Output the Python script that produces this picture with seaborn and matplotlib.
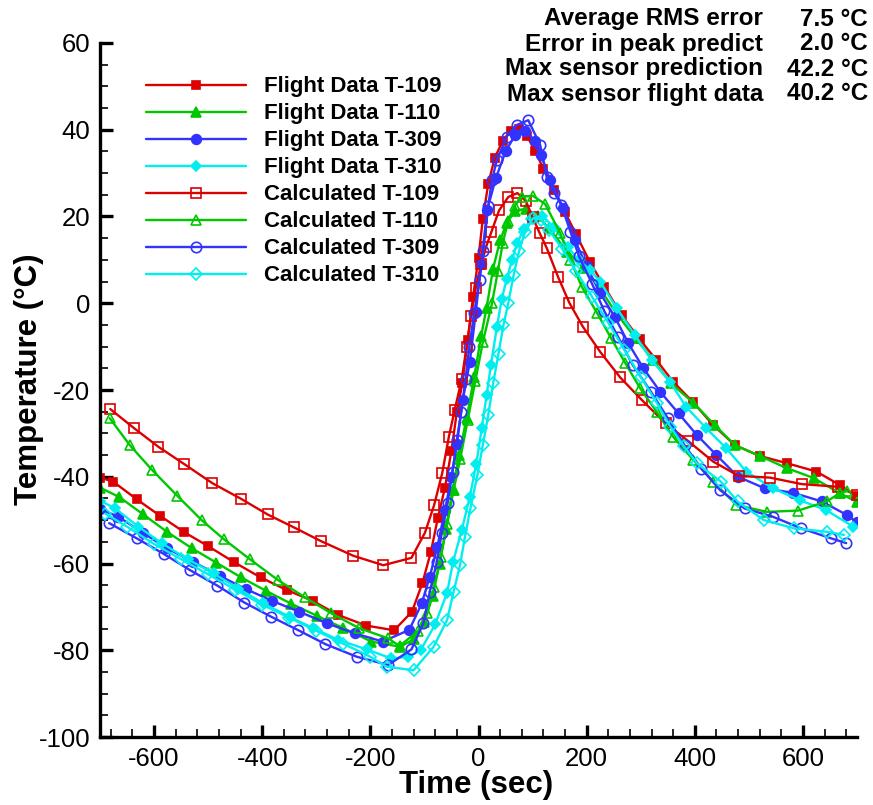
import matplotlib
matplotlib.use("Agg")
import matplotlib.pyplot as plt
import numpy as np
import pandas as pd
import seaborn as sns
from matplotlib.ticker import MultipleLocator

# ---- data (time in s, temperature in deg C) ----
fd109_t = [-700, -676, -632, -589, -544, -500, -452, -403, -355, -307, -259, -208, -156, -123, -104, -88,
           -75, -62, -50, -40, -30, -20, -10, 0, 8, 18, 30, 45, 60, 74, 90, 105, 120, 140, 160, 180, 206,
           233, 265, 298, 329, 360, 396, 434, 474, 520, 571, 625, 668, 700]
fd109_v = [-40.2, -41.1, -45.2, -49.0, -52.8, -56.0, -59.7, -63.2, -66.1, -68.6, -71.9, -74.3, -75.4, -71.1,
           -64.6, -57.3, -49.4, -42.5, -34.0, -25.0, -18.5, -8.5, 1.5, 10.5, 19.5, 27.5, 33.5, 37.5, 39.8, 40.2,
           38.5, 35.0, 31.0, 26.0, 21.0, 16.0, 9.5, 3.8, -2.8, -8.3, -13.1, -18.1, -22.7, -28.1, -32.7, -35.2,
           -36.9, -38.8, -41.9, -44.5]

fd110_t = [-700, -664, -621, -576, -530, -485, -439, -393, -346, -298, -250, -198, -145, -120, -100, -85,
           -72, -60, -48, -36, -22, -8, 5, 15, 27, 40, 52, 68, 88, 110, 130, 164, 194, 225, 256, 290, 322, 356,
           397, 437, 474, 520, 570, 620, 668, 700]
fd110_v = [-42.5, -44.7, -48.6, -52.7, -56.5, -59.8, -63.2, -66.3, -69.3, -72.1, -74.9, -78.0, -79.2, -77.5,
           -73.5, -67.5, -60.0, -52.0, -43.0, -35.0, -26.5, -17.0, -7.5, -1.0, 8.0, 14.5, 18.5, 21.3, 21.8, 20.0,
           17.3, 11.9, 8.1, 3.3, -2.5, -8.0, -13.0, -18.5, -22.9, -28.1, -32.7, -35.2, -38.0, -40.3, -43.8, -45.8]

fd309_t = [-700, -666, -620, -576, -528, -478, -430, -382, -332, -280, -229, -177, -128, -105, -90, -76, -62,
           -50, -40, -29, -16, -5, 5, 16, 32, 50, 68, 86, 104, 116, 132, 157, 178, 200, 225, 252, 277, 305, 336,
           370, 404, 440, 480, 530, 582, 635, 681, 700]
fd309_v = [-47.5, -49.2, -53.0, -56.5, -59.6, -62.9, -65.9, -68.6, -71.1, -73.8, -76.1, -78.0, -75.3, -69.2,
           -63.0, -56.1, -47.7, -40.0, -32.5, -22.3, -13.5, -2.0, 9.0, 21.5, 28.8, 35.0, 38.8, 39.8, 37.5, 34.2,
           28.4, 21.9, 14.6, 8.5, 2.3, -3.1, -9.2, -15.0, -20.4, -25.4, -30.4, -35.0, -40.0, -42.7, -43.7, -45.7,
           -48.8, -50.5]

fd310_t = [-700, -672, -629, -586, -538, -490, -444, -398, -349, -306, -259, -207, -161, -130, -107, -80,
           -58, -47, -31, -16, -4, 6, 15, 23, 34, 43, 52, 62, 72, 84, 98, 117, 140, 165, 185, 206, 225, 256, 289,
           320, 354, 384, 421, 458, 495, 545, 594, 643, 693]
fd310_v = [-45.5, -47.3, -51.5, -55.3, -59.0, -62.3, -65.8, -69.2, -72.3, -74.9, -77.6, -79.8, -81.9, -81.5,
           -80.0, -74.0, -66.7, -59.6, -52.3, -44.6, -37.0, -28.8, -21.2, -14.2, -5.5, 1.0, 5.5, 10.0, 14.0, 17.2,
           19.5, 20.2, 17.5, 13.0, 10.0, 7.7, 5.0, -1.2, -7.3, -13.1, -18.1, -23.9, -28.8, -33.4, -38.8, -42.7,
           -45.4, -47.7, -51.5]

c109_t = [-681, -637, -592, -544, -492, -439, -390, -341, -292, -232, -176, -124, -99, -82, -67, -55, -44,
          -31, -22, -14, -5, 5, 14, 24, 38, 55, 72, 88, 100, 113, 126, 147, 168, 193, 225, 262, 302, 346, 388,
          434, 481, 539, 598, 664, 700]
c109_v = [-24.4, -28.8, -33.1, -37.1, -41.5, -45.1, -48.7, -51.7, -54.8, -58.2, -60.4, -58.7, -52.9, -46.5,
          -39.1, -30.9, -24.6, -17.5, -10.0, -3.0, 3.5, 9.0, 13.0, 16.5, 21.4, 24.5, 25.4, 23.5, 19.8, 16.2,
          12.8, 6.1, 0.1, -5.4, -11.2, -17.1, -22.3, -27.7, -31.8, -36.5, -39.8, -40.2, -41.7, -42.3, -44.3]

c110_t = [-682, -645, -604, -557, -512, -471, -423, -371, -321, -272, -221, -168, -146, -111, -95, -82, -70,
          -58, -46, -34, -20, -6, 8, 25, 36, 45, 55, 67, 80, 100, 123, 151, 170, 191, 219, 245, 271, 299, 330,
          360, 397, 434, 477, 533, 591, 644, 668, 682]
c110_v = [-26.5, -32.7, -38.4, -44.4, -50.0, -54.4, -59.0, -63.8, -67.8, -71.5, -74.9, -77.2, -79.0, -75.5,
          -71.5, -65.5, -58.5, -51.0, -43.0, -36.0, -27.0, -18.0, -9.0, 0.0, 7.5, 14.0, 19.0, 22.5, 24.5, 24.8,
          22.9, 16.2, 10.0, 3.8, -2.2, -8.0, -13.7, -19.6, -25.1, -30.8, -36.1, -41.1, -46.5, -48.1, -47.8,
          -45.7, -43.8, -43.3]

c309_t = [-683, -632, -582, -534, -483, -433, -383, -333, -283, -225, -167, -124, -102, -90, -77, -68, -57,
          -48, -40, -32, -24, -17, -8, 2, 9, 18, 25, 34, 52, 71, 92, 114, 126, 140, 153, 170, 186, 210, 233,
          258, 285, 319, 350, 381, 412, 447, 492, 544, 597, 652, 680]
c309_v = [-50.7, -54.2, -57.8, -61.5, -65.1, -69.0, -72.3, -75.4, -78.6, -81.5, -83.4, -79.8, -73.8, -66.5,
          -59.6, -53.0, -46.0, -38.8, -31.5, -25.0, -17.5, -10.0, -2.3, 5.4, 12.0, 22.5, 28.5, 33.0, 38.4,
          41.1, 42.2, 36.5, 29.2, 25.5, 22.7, 16.5, 10.8, 4.5, -1.9, -7.7, -14.2, -20.4, -26.5, -32.7, -38.1,
          -43.1, -47.3, -49.2, -51.9, -54.2, -55.3]

c310_t = [-690, -650, -600, -550, -500, -450, -400, -350, -300, -250, -200, -170, -120, -83, -58, -46, -34,
          -25, -15, -2, 8, 18, 27, 37, 46, 55, 65, 75, 86, 101, 115, 130, 155, 180, 210, 240, 270, 300, 330,
          355, 380, 404, 448, 479, 528, 584, 645, 676]
c310_v = [-48.5, -51.5, -55.5, -59.0, -62.5, -66.0, -69.5, -72.5, -75.5, -78.5, -81.5, -83.8, -84.6, -79.2,
          -73.0, -66.5, -60.3, -53.8, -47.3, -39.6, -32.7, -25.8, -18.5, -11.6, -5.1, 0.0, 6.5, 12.0, 16.5,
          19.6, 19.3, 17.0, 12.5, 7.5, 1.5, -4.5, -10.8, -17.0, -23.0, -28.5, -33.0, -36.9, -41.1, -45.7,
          -50.0, -51.9, -52.7, -53.4]

labels = ["Flight Data T-109", "Flight Data T-110", "Flight Data T-309", "Flight Data T-310",
          "Calculated T-109", "Calculated T-110", "Calculated T-309", "Calculated T-310"]
times = [fd109_t, fd110_t, fd309_t, fd310_t, c109_t, c110_t, c309_t, c310_t]
temps = [fd109_v, fd110_v, fd309_v, fd310_v, c109_v, c110_v, c309_v, c310_v]

stat_names = ["Average RMS error", "Error in peak predict", "Max sensor prediction", "Max sensor flight data"]
stat_values = ["7.5 \u00b0C", "2.0 \u00b0C", "42.2 \u00b0C", "40.2 \u00b0C"]

# ---- styling ----
red, green, blue, cyan = "#dd0000", "#00c800", "#3333ff", "#00eeee"
colors = [red, green, blue, cyan] * 2
markers = ["s", "^", "o", "D"] * 2
filled = [True] * 4 + [False] * 4
msizes = [6, 6.5, 7, 5.5, 6.5, 7, 7.5, 6]

sns.set_style("ticks")
plt.rcParams["font.family"] = ["Liberation Sans", "DejaVu Sans"]
plt.rcParams["axes.unicode_minus"] = False
plt.rcParams["text.color"] = "black"
plt.rcParams["axes.labelcolor"] = "black"
plt.rcParams["xtick.color"] = "black"
plt.rcParams["ytick.color"] = "black"
plt.rcParams["axes.edgecolor"] = "black"

fig = plt.figure(figsize=(8.73, 8.05), dpi=100)
ax = fig.add_axes([100 / 873, 68 / 805, 757 / 873, 694 / 805])

df = pd.concat([pd.DataFrame({"time": t, "temp": v, "series": lab})
                for t, v, lab in zip(times, temps, labels)], ignore_index=True)

for i, lab in enumerate(labels):
    sub = df[df["series"] == lab]
    sns.lineplot(data=sub, x="time", y="temp", ax=ax, color=colors[i], lw=1.7,
                 marker=markers[i], markersize=msizes[i],
                 markerfacecolor=colors[i] if filled[i] else "none",
                 markeredgecolor=colors[i], markeredgewidth=1.2,
                 estimator=None, sort=False, label=lab)

ax.set_xlim(-700, 700)
ax.set_ylim(-100, 60)
ax.xaxis.set_major_locator(MultipleLocator(200))
ax.xaxis.set_minor_locator(MultipleLocator(40))
ax.yaxis.set_major_locator(MultipleLocator(20))
ax.yaxis.set_minor_locator(MultipleLocator(5))
for s in ["top", "right"]:
    ax.spines[s].set_visible(False)
for s in ["left", "bottom"]:
    ax.spines[s].set_linewidth(2.4)
ax.tick_params(which="major", direction="in", length=9, width=2.4, labelsize=18.5, pad=7)
ax.tick_params(which="minor", direction="in", length=5.5, width=1.2)

ax.set_xlabel("Time (sec)", fontsize=22.5, fontweight="bold")
ax.set_ylabel("Temperature (\u00b0C)", fontsize=22.5, fontweight="bold")
ax.xaxis.set_label_coords(0.497, -0.047)
ax.yaxis.set_label_coords(-0.074, 0.515)

ax.legend(loc="upper left", bbox_to_anchor=(0.061, 0.952), frameon=False,
          prop={"weight": "bold", "size": 16}, handlelength=4.5, handletextpad=0.8,
          labelspacing=0.27, borderpad=0, borderaxespad=0)

row_y = [19, 44, 69, 94]
for name, val, yy in zip(stat_names, stat_values, row_y):
    fig.text(763 / 873, 1 - yy / 805, name, ha="right", va="center", fontsize=17.5, fontweight="bold")
    fig.text(868 / 873, 1 - yy / 805, val, ha="right", va="center", fontsize=17.5, fontweight="bold")

fig.savefig("out.png", dpi=100)
